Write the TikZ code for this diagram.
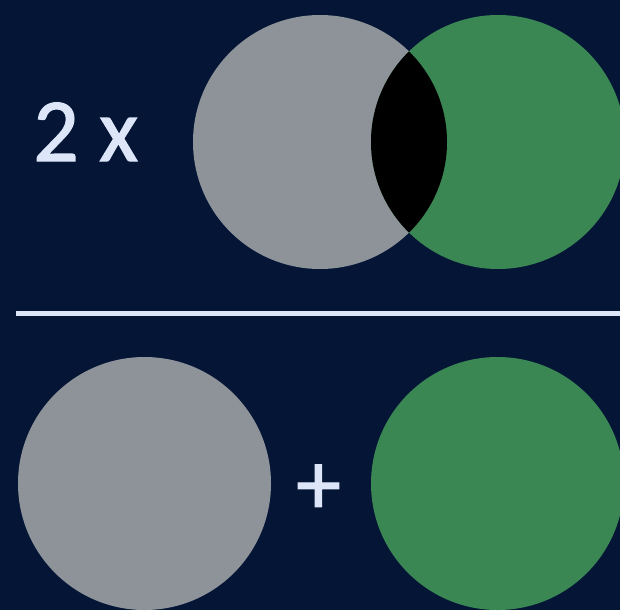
\documentclass[tikz,border=0pt]{standalone}
\usepackage{fontspec}
\setmainfont{Carlito}
\newfontfamily\lblfont[FakeBold=1.3]{Carlito}
\definecolor{bg}{RGB}{4,21,54}
\definecolor{cgray}{RGB}{142,147,153}
\definecolor{cgreen}{RGB}{58,135,83}
\definecolor{ctext}{RGB}{220,230,248}
\tikzset{
  lbl/.style={text=ctext, inner sep=0pt, font=\lblfont\fontsize{90}{90}\selectfont},
  rule/.style={draw=ctext, line width=5pt}
}
\begin{document}
\begin{tikzpicture}[x=1pt,y=-1pt]
\fill[bg] (0,0) rectangle (620,610);
\useasboundingbox (0,0) rectangle (620,610);
\begin{scope}
\clip (0,0) rectangle (620,610);
% top
\fill[cgray] (320,142) circle (127);
\fill[cgreen] (498,142) circle (127);
\begin{scope}
\clip (320,142) circle (127);
\fill[black] (498,142) circle (127);
\end{scope}
% bottom
\fill[cgray] (144.5,483.5) circle (126.5);
\fill[cgreen] (497.5,483.5) circle (126.5);
\end{scope}
\node[lbl, anchor=base west] (two) at (33,161) {2 x};
\coordinate (l1) at (16,313);
\coordinate (l2) at (620,313);
\draw[rule] (l1) -- (l2);
\node[lbl] (plus) at (318.5,489.5) {+};
\end{tikzpicture}
\end{document}
